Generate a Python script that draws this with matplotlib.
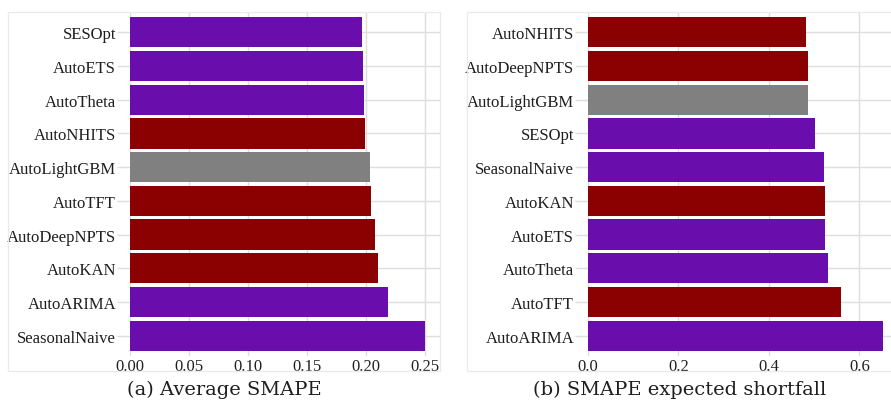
import matplotlib.pyplot as plt
from matplotlib.patches import Rectangle

# Panel (a): average SMAPE, listed top to bottom
avg_models = ["SESOpt", "AutoETS", "AutoTheta", "AutoNHITS", "AutoLightGBM",
              "AutoTFT", "AutoDeepNPTS", "AutoKAN", "AutoARIMA", "SeasonalNaive"]
avg_values = [0.1966, 0.1975, 0.1983, 0.1992, 0.2034,
              0.2042, 0.2076, 0.2102, 0.2186, 0.2500]

# Panel (b): SMAPE expected shortfall, listed top to bottom
es_models = ["AutoNHITS", "AutoDeepNPTS", "AutoLightGBM", "SESOpt", "SeasonalNaive",
             "AutoKAN", "AutoETS", "AutoTheta", "AutoTFT", "AutoARIMA"]
es_values = [0.482, 0.487, 0.487, 0.502, 0.522,
             0.524, 0.524, 0.531, 0.560, 0.653]

avg_ticks = [0.00, 0.05, 0.10, 0.15, 0.20, 0.25]
avg_ticklabels = ["0.00", "0.05", "0.10", "0.15", "0.20", "0.25"]
es_ticks = [0.0, 0.2, 0.4, 0.6]
es_ticklabels = ["0.0", "0.2", "0.4", "0.6"]

# model family colours
family_colors = {
    "stat": "#6a0dad",
    "neural": "#8b0000",
    "tree": "#808080",
}
model_family = {
    "SESOpt": "stat", "AutoETS": "stat", "AutoTheta": "stat",
    "AutoARIMA": "stat", "SeasonalNaive": "stat",
    "AutoNHITS": "neural", "AutoTFT": "neural", "AutoDeepNPTS": "neural",
    "AutoKAN": "neural", "AutoLightGBM": "tree",
}

label_font = "Liberation Serif"
caption_font = "DejaVu Serif"
text_color = "#1e1e1e"
grid_color = "#dedede"
frame_color = "#ebebeb"


def draw_panel(ax, models, values, ticks, ticklabels, xmax):
    n = len(models)
    ypos = list(range(n - 1, -1, -1))
    colors = [family_colors[model_family[m]] for m in models]
    ax.barh(ypos, values, height=0.9, color=colors, zorder=2)
    ax.set_yticks(ypos)
    ax.set_yticklabels(models, fontfamily=label_font, fontsize=12, color=text_color)
    ax.set_xticks(ticks)
    ax.set_xticklabels(ticklabels, fontfamily=label_font, fontsize=12, color=text_color)
    ax.set_xlim(0, xmax)
    ax.set_ylim(-0.6, n - 0.4)
    ax.grid(True, color=grid_color, linewidth=1.0, zorder=0)
    ax.set_axisbelow(True)
    for s in ax.spines.values():
        s.set_visible(False)
    ax.tick_params(axis="y", length=9.5, width=1.0, color=grid_color, pad=0.5)
    ax.tick_params(axis="x", length=0, pad=1.5)


fig = plt.figure(figsize=(8.91, 4.10), dpi=100)

ax1 = fig.add_axes([130 / 891, 53 / 410, 310 / 891, 344 / 410])
draw_panel(ax1, avg_models, avg_values, avg_ticks, avg_ticklabels, 0.2627)

ax2 = fig.add_axes([588 / 891, 53 / 410, 303 / 891, 344 / 410])
draw_panel(ax2, es_models, es_values, es_ticks, es_ticklabels, 0.670)

# light frames around each panel
fig.patches.append(Rectangle((8 / 891, 38 / 410), 432 / 891, 359 / 410,
                             transform=fig.transFigure, fill=False,
                             edgecolor=frame_color, linewidth=1.0, zorder=0))
fig.patches.append(Rectangle((467 / 891, 38 / 410), 430 / 891, 359 / 410,
                             transform=fig.transFigure, fill=False,
                             edgecolor=frame_color, linewidth=1.0, zorder=0))

fig.text(224 / 891, 20 / 410, "(a) Average SMAPE", ha="center", va="center",
         fontfamily=caption_font, fontsize=14, color=text_color)
fig.text(680 / 891, 20 / 410, "(b) SMAPE expected shortfall", ha="center",
         va="center", fontfamily=caption_font, fontsize=14, color=text_color)

fig.savefig("out.png", dpi=100)
